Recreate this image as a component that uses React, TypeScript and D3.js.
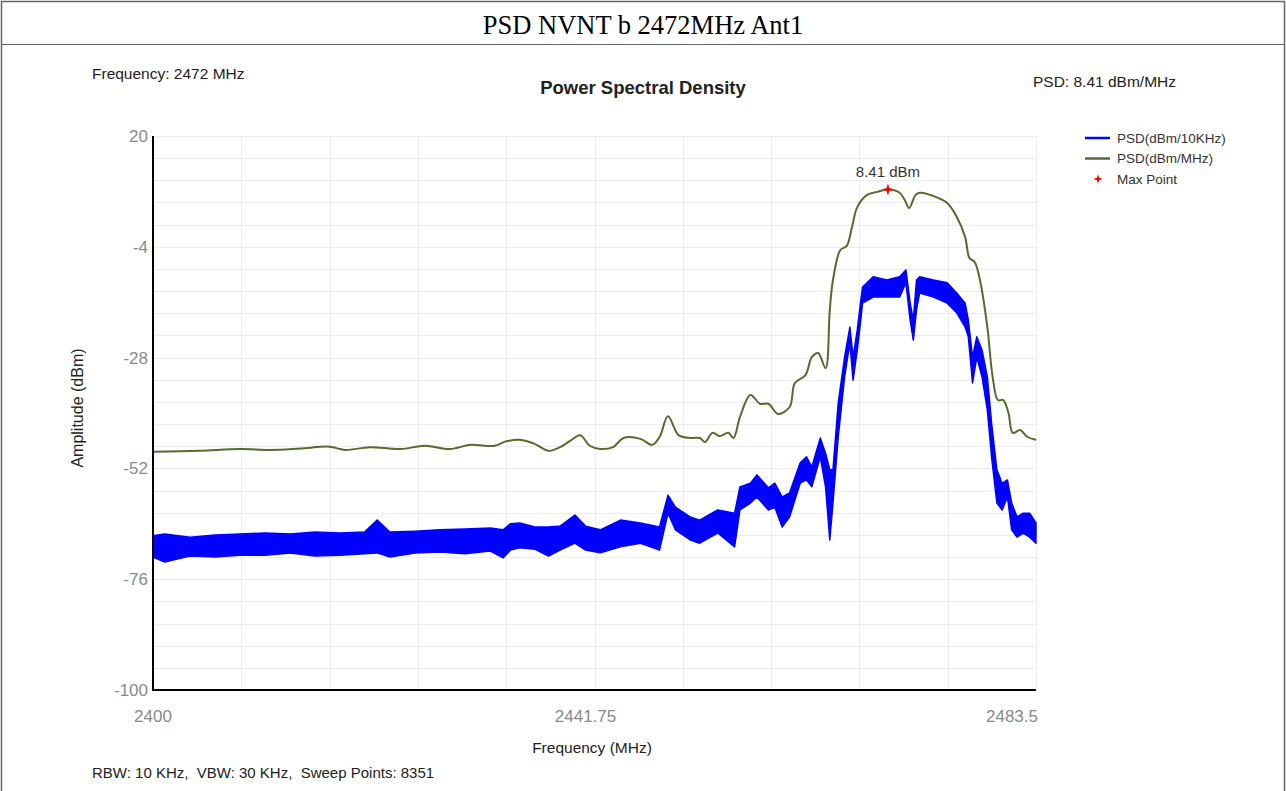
import * as d3 from 'd3';
import React, {useEffect} from 'react';

// PSD (dBm/MHz) trace
const mhzFreq = [
  2400, 2404.4, 2408.2, 2411.1, 2413.9, 2416.7, 2418.2, 2420.5, 2423.4, 2425.7,
  2428.1, 2430.0, 2432.3, 2433.3, 2434.7, 2436.1, 2437.4, 2438.5, 2439.4, 2440.4,
  2441.3, 2442.3, 2443.5, 2444.5, 2446.1, 2447.2, 2447.9, 2448.7, 2449.7, 2450.8,
  2451.7, 2452.2, 2452.9, 2453.6, 2454.4, 2454.9, 2455.5, 2456.5, 2457.4, 2458.2,
  2459.1, 2460.2, 2460.7, 2461.7, 2462.3, 2462.9, 2463.6, 2464.0, 2464.3, 2465.0,
  2465.6, 2466.1, 2466.6, 2467.5, 2468.5, 2469.5, 2470.6, 2471.1, 2471.5, 2472.1,
  2472.5, 2473.8, 2475.1, 2476.0, 2476.8, 2477.2, 2477.7, 2478.2, 2478.9, 2479.4,
  2479.9, 2480.4, 2480.9, 2481.3, 2482.0, 2482.7, 2483.5
];
const mhzPsd = [
  -48.4, -48.2, -47.8, -48.0, -47.7, -47.3, -48.0, -47.4, -47.8, -47.1,
  -47.8, -46.9, -47.1, -46.2, -45.8, -46.7, -48.2, -47.4, -46.1, -44.8,
  -47.1, -47.8, -47.4, -45.4, -45.6, -46.9, -45.2, -40.7, -44.8, -45.4,
  -45.4, -46.3, -44.3, -45.0, -44.3, -45.4, -40.9, -36.1, -38.0, -38.0,
  -40.2, -38.7, -33.5, -31.8, -27.9, -27.0, -30.3, -17.7, -11.2, -4.7,
  -3.8, 0.3, 4.6, 7.2, 7.9, 8.41, 7.7, 6.1, 4.4, 7.2,
  7.7, 7.0, 5.5, 2.5, -1.9, -6.4, -7.3, -11.2, -21.4, -32.2,
  -37.2, -37.2, -40.0, -44.3, -43.7, -45.2, -45.8
];

// PSD (dBm/10KHz) trace: min / max of the noisy trace per frequency bin
const binFreq = [
  2400.0, 2401.1, 2403.5, 2405.9, 2408.2, 2410.6, 2413.0, 2415.3, 2417.7, 2420.0,
  2421.2, 2422.4, 2424.8, 2427.1, 2429.5, 2431.9, 2433.1, 2433.8, 2434.7, 2436.1,
  2437.4, 2438.5, 2439.9, 2440.9, 2442.3, 2444.2, 2446.1, 2447.9, 2448.7, 2449.4,
  2450.8, 2451.7, 2453.4, 2455.0, 2455.5, 2456.5, 2457.1, 2458.2, 2458.8, 2459.5,
  2460.2, 2461.2, 2461.8, 2462.3, 2463.1, 2463.6, 2464.0, 2464.3, 2464.8, 2465.4,
  2465.9, 2466.2, 2466.6, 2466.9, 2467.1, 2468.1, 2469.4, 2470.6, 2471.2, 2471.6,
  2471.9, 2472.2, 2472.5, 2473.8, 2475.1, 2476.0, 2476.8, 2477.1, 2477.5, 2477.9,
  2478.4, 2478.9, 2479.3, 2479.8, 2480.3, 2480.8, 2481.2, 2481.7, 2482.3, 2482.9,
  2483.5
];
const binHigh = [
  -66.6, -66.2, -66.9, -66.4, -66.2, -66.0, -66.2, -65.8, -66.0, -65.8,
  -63.2, -65.8, -65.6, -65.3, -65.1, -64.9, -65.3, -64.0, -63.8, -64.7,
  -64.7, -64.5, -62.1, -64.5, -65.3, -63.2, -63.8, -64.7, -57.8, -60.4,
  -62.5, -63.2, -61.0, -61.7, -56.0, -55.2, -53.4, -56.2, -55.2, -58.2,
  -57.3, -50.8, -49.5, -51.7, -45.4, -48.7, -52.3, -52.3, -37.8, -27.9,
  -21.4, -27.9, -22.0, -16.2, -12.7, -10.5, -11.2, -10.5, -9.0, -16.2,
  -19.9, -11.2, -10.5, -11.2, -11.8, -14.0, -16.2, -19.9, -27.9, -23.5,
  -26.4, -32.2, -42.2, -52.3, -55.2, -54.5, -59.5, -62.5, -61.7, -61.7,
  -63.8
];
const binLow = [
  -71.2, -72.3, -71.0, -71.2, -70.8, -70.8, -70.3, -71.0, -70.8, -70.5,
  -70.3, -71.2, -70.3, -70.1, -70.5, -69.9, -71.4, -69.7, -69.2, -69.5,
  -71.0, -69.7, -68.2, -69.7, -70.3, -69.0, -68.2, -69.7, -61.7, -65.3,
  -67.5, -68.2, -66.0, -69.0, -61.0, -59.5, -58.2, -61.0, -60.4, -64.7,
  -62.5, -55.2, -54.5, -56.0, -49.5, -56.0, -67.5, -59.5, -45.2, -32.2,
  -24.8, -32.9, -26.4, -20.5, -16.2, -14.9, -14.9, -14.9, -11.8, -19.9,
  -24.2, -17.7, -14.0, -14.9, -16.2, -18.3, -21.4, -23.5, -33.5, -27.9,
  -32.2, -39.4, -49.5, -59.5, -61.0, -58.2, -65.3, -66.9, -66.0, -66.9,
  -68.2
];

const maxFreq = 2469.5;
const maxPsd = 8.41;

const freqTicks = [2400, 2441.75, 2483.5];
const ampTicks = [20, -4, -28, -52, -76, -100];

const legendItems = ['PSD(dBm/10KHz)', 'PSD(dBm/MHz)', 'Max Point'];

export default function App() {
  const chartRef = React.useRef();

  useEffect(() => {
    drawChart();
  }, []);

  function drawChart() {
    const container = d3.select(chartRef.current);
    container.selectAll('*').remove();

    const W = 1286, H = 791;
    const font = '"Liberation Sans", Arial, sans-serif';

    const svg = container
      .append('svg')
      .attr('width', W)
      .attr('height', H)
      .style('position', 'absolute')
      .style('left', 0)
      .style('top', 0)
      .style('background', '#fff');

    // frame and title row
    svg.append('rect')
      .attr('x', 1.5).attr('y', 1.5)
      .attr('width', W - 3).attr('height', H)
      .attr('fill', 'none').attr('stroke', '#666').attr('stroke-width', 1.5);
    svg.append('line')
      .attr('x1', 1).attr('x2', W - 1).attr('y1', 44.5).attr('y2', 44.5)
      .attr('stroke', '#666').attr('stroke-width', 1.2);
    svg.append('text')
      .attr('x', 643).attr('y', 34)
      .attr('text-anchor', 'middle')
      .style('font-family', '"Liberation Serif", "Times New Roman", serif')
      .style('font-size', '26.5px')
      .text('PSD NVNT b 2472MHz Ant1');

    // plot area
    const left = 153, right = 1036, top = 136, bottom = 690;

    const x = d3.scaleLinear().domain([2400, 2483.5]).range([left, right]);
    const y = d3.scaleLinear().domain([-100, 20]).range([bottom, top]);

    // grid
    const grid = svg.append('g');
    grid.selectAll('.hg')
      .data(d3.range(0, 26).map((i) => -100 + i * 4.8))
      .enter().append('line')
      .attr('x1', left).attr('x2', right)
      .attr('y1', (d) => Math.round(y(d)) + 0.5).attr('y2', (d) => Math.round(y(d)) + 0.5)
      .attr('stroke', '#ececec');
    grid.selectAll('.vg')
      .data(d3.range(1, 11).map((i) => 2400 + i * 8.35))
      .enter().append('line')
      .attr('x1', (d) => Math.round(x(d)) + 0.5).attr('x2', (d) => Math.round(x(d)) + 0.5)
      .attr('y1', top).attr('y2', bottom)
      .attr('stroke', '#ececec');

    // 10 KHz trace (min/max band)
    const band = d3.area()
      .x((d, i) => x(binFreq[i]))
      .y0((d, i) => y(binLow[i]))
      .y1((d, i) => y(binHigh[i]));
    svg.append('path')
      .attr('d', band(binFreq))
      .attr('fill', '#0000ff')
      .attr('stroke', '#0000ff')
      .attr('stroke-width', 1.5)
      .attr('stroke-linejoin', 'round');

    // MHz trace
    const line = d3.line()
      .x((d, i) => x(mhzFreq[i]))
      .y((d, i) => y(mhzPsd[i]))
      .curve(d3.curveCatmullRom);
    svg.append('path')
      .attr('d', line(mhzFreq))
      .attr('fill', 'none')
      .attr('stroke', '#556b2f')
      .attr('stroke-width', 2);

    // max point
    const star = d3.lineRadial()
      .angle((d, i) => i * Math.PI / 4)
      .radius((d, i) => (i % 2 === 0 ? 6 : 2))
      .curve(d3.curveLinearClosed);
    svg.append('path')
      .attr('d', star(d3.range(8)))
      .attr('transform', `translate(${x(maxFreq)},${y(maxPsd)})`)
      .attr('fill', '#ff0000');
    svg.append('text')
      .attr('x', x(maxFreq)).attr('y', y(maxPsd) - 13)
      .attr('text-anchor', 'middle')
      .style('font-family', font).style('font-size', '15px').style('fill', '#333')
      .text(maxPsd + ' dBm');

    // axes
    svg.append('line')
      .attr('x1', left).attr('x2', left).attr('y1', top).attr('y2', bottom + 1)
      .attr('stroke', '#000').attr('stroke-width', 2);
    svg.append('line')
      .attr('x1', left - 1).attr('x2', right).attr('y1', bottom).attr('y2', bottom)
      .attr('stroke', '#000').attr('stroke-width', 2);

    svg.append('g').selectAll('text')
      .data(ampTicks)
      .enter().append('text')
      .attr('x', left - 5).attr('y', (d) => y(d))
      .attr('dy', '0.35em')
      .attr('text-anchor', 'end')
      .style('font-family', font).style('font-size', '17px').style('fill', '#8a8a8a')
      .text((d) => d);

    svg.append('g').selectAll('text')
      .data(freqTicks)
      .enter().append('text')
      .attr('x', (d) => x(d)).attr('y', 722)
      .attr('dx', (d, i) => (i === 1 ? -9 : i === 2 ? 2 : 0))
      .attr('text-anchor', (d, i) => (i === 2 ? 'end' : 'middle'))
      .style('font-family', font).style('font-size', '17px').style('fill', '#8a8a8a')
      .text((d) => d);

    svg.append('text')
      .attr('transform', `translate(83,${(top + bottom) / 2 - 5}) rotate(-90)`)
      .attr('text-anchor', 'middle')
      .style('font-family', font).style('font-size', '16px').style('fill', '#222')
      .text('Amplitude (dBm)');
    svg.append('text')
      .attr('x', 592).attr('y', 753)
      .attr('text-anchor', 'middle')
      .style('font-family', font).style('font-size', '15.5px').style('fill', '#222')
      .text('Frequency (MHz)');

    // header and footer notes
    svg.append('text')
      .attr('x', 92).attr('y', 79)
      .style('font-family', font).style('font-size', '15.5px').style('fill', '#222')
      .text('Frequency: 2472 MHz');
    svg.append('text')
      .attr('x', 643).attr('y', 94)
      .attr('text-anchor', 'middle')
      .style('font-family', font).style('font-size', '18.5px').style('font-weight', 'bold').style('fill', '#222')
      .text('Power Spectral Density');
    svg.append('text')
      .attr('x', 1176).attr('y', 87)
      .attr('text-anchor', 'end')
      .style('font-family', font).style('font-size', '15.5px').style('fill', '#222')
      .text('PSD: ' + maxPsd + ' dBm/MHz');
    svg.append('text')
      .attr('x', 92).attr('y', 778)
      .style('font-family', font).style('font-size', '15px').style('fill', '#222')
      .style('white-space', 'pre')
      .text('RBW: 10 KHz,  VBW: 30 KHz,  Sweep Points: 8351');

    // legend
    const legend = svg.append('g').attr('transform', 'translate(1085,138)');
    const colors = ['#0000ff', '#556b2f', '#ff0000'];
    legendItems.forEach((name, i) => {
      const g = legend.append('g').attr('transform', `translate(0,${i * 20.5})`);
      if (i < 2) {
        g.append('line')
          .attr('x1', 0).attr('x2', 25).attr('y1', 0).attr('y2', 0)
          .attr('stroke', colors[i]).attr('stroke-width', 2.5);
      } else {
        g.append('path')
          .attr('d', star(d3.range(8)))
          .attr('transform', 'translate(13,0) scale(0.8)')
          .attr('fill', colors[i]);
      }
      g.append('text')
        .attr('x', 32).attr('y', 0).attr('dy', '0.35em')
        .style('font-family', font).style('font-size', '13.5px').style('fill', '#333')
        .text(name);
    });
  }

  return (
    <div ref={chartRef}></div>
  );
}
